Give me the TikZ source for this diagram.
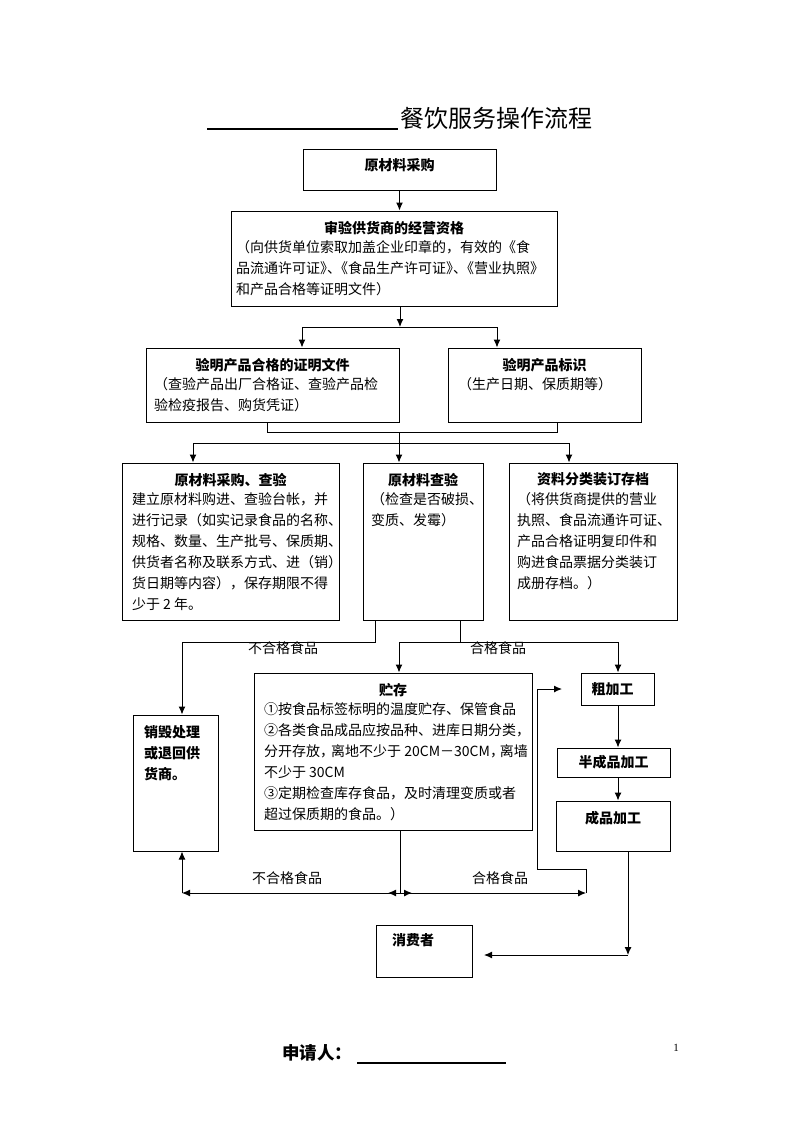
\documentclass[tikz,border=0pt]{standalone}
\usepackage{fontspec}
\setmainfont{Noto Sans CJK SC}
\newfontfamily\pagenofont{Liberation Serif}
\usetikzlibrary{positioning,arrows.meta}

\tikzset{
  box/.style={draw, line width=1pt, inner sep=0pt},
  head/.style={inner sep=0pt, font=\bfseries\fontsize{14}{21}\selectfont},
  txt/.style={inner sep=0pt, align=left, font=\fontsize{14}{21}\selectfont},
  tag/.style={inner sep=0pt, font=\fontsize{14}{21}\selectfont},
}

\begin{document}
\begin{tikzpicture}[x=1pt, y=-1pt, line width=1pt, >={Latex[length=8pt,width=7pt]}]
\useasboundingbox (0,0) rectangle (800,1132);

% title
\node[inner sep=0pt, font=\fontsize{24}{28}\selectfont] (title) at (496.5,118) {餐饮服务操作流程};
\draw[line width=1.3pt] (207,129) -- (398,129);

% purchase and supplier check
\node[box, minimum width=193pt, minimum height=41pt] (buy) at (399.5,169.5) {};
\node[head, below=10pt of buy.north] (buyhead) {原材料采购};
\node[box, minimum width=326pt, minimum height=95pt] (qual) at (394,258.5) {};
\node[head, below=10pt of qual.north] (qualhead) {审验供货商的经营资格};
\node[txt, below right=30pt and 5pt of qual.north west] (qualtxt)
  {（向供货单位索取加盖企业印章的，有效的《食\\
   品流通许可证》\kern-.5em、\kern-.5em《食品生产许可证》\kern-.5em、\kern-.5em《营业执照》\\
   和产品合格等证明文件）};

% product checks
\node[box, minimum width=253pt, minimum height=74pt] (certs) at (272.5,385) {};
\node[head, below=10pt of certs.north] (certshead) {验明产品合格的证明文件};
\node[txt, below right=30pt and 8pt of certs.north west] (certstxt)
  {（查验产品出厂合格证、查验产品检\\验检疫报告、购货凭证）};
\node[box, minimum width=193pt, minimum height=74pt] (mark) at (544.5,385) {};
\node[head, below=10pt of mark.north] (markhead) {验明产品标识};
\node[txt, below right=30pt and 10pt of mark.north west] (marktxt) {（生产日期、保质期等）};

% three columns
\node[box, minimum width=217pt, minimum height=157pt] (ledger) at (230.5,541.5) {};
\node[head, below=10pt of ledger.north] (ledgerhead) {原材料采购、查验};
\node[txt, below right=30pt and 10pt of ledger.north west] (ledgertxt)
  {建立原材料购进、查验台帐，并\\
   进行记录（如实记录食品的名称、\\
   规格、数量、生产批号、保质期、\\
   供货者名称及联系方式、进（销）\\
   货日期等内容），保存期限不得\\
   少于 2 年。};
\node[box, minimum width=120pt, minimum height=157pt] (inspect) at (423,541.5) {};
\node[head, below=10pt of inspect.north] (inspecthead) {原材料查验};
\node[txt, below right=30pt and 8pt of inspect.north west] (inspecttxt)
  {（检查是否破损、\\变质、发霉）};
\node[box, minimum width=168pt, minimum height=157pt] (archive) at (593,541.5) {};
\node[head, below=10pt of archive.north] (archivehead) {资料分类装订存档};
\node[txt, below right=30pt and 8pt of archive.north west] (archivetxt)
  {（将供货商提供的营业\\
   执照、食品流通许可证、\\
   产品合格证明复印件和\\
   购进食品票据分类装订\\
   成册存档。）};

% reject, storage, processing
\node[box, minimum width=85pt, minimum height=136pt] (reject) at (175.5,783) {};
\node[head, align=left, below right=10pt and 11pt of reject.north west] (rejecttxt)
  {销毁处理\\或退回供\\货商。};
\node[box, minimum width=278pt, minimum height=157pt] (store) at (393,751.5) {};
\node[head, below=10pt of store.north] (storehead) {贮存};
\node[txt, below right=30pt and 10pt of store.north west] (storetxt)
  {①按食品标签标明的温度贮存、保管食品\\
   ②各类食品成品应按品种、进库日期分类，\\
   分开存放，\kern-.2em离地不少于 20CM－30CM，\kern-.3em离墙\\
   不少于 30CM\\
   ③定期检查库存食品，及时清理变质或者\\
   超过保质期的食品。）};
\node[box, minimum width=73pt, minimum height=32pt] (rough) at (617.5,689) {};
\node[head] (roughtxt) at ([xshift=-5pt]rough.center) {粗加工};
\node[box, minimum width=113pt, minimum height=29pt] (semi) at (613.5,762.5) {};
\node[head] (semitxt) at (semi.center) {半成品加工};
\node[box, minimum width=114pt, minimum height=50pt] (final) at (613,826) {};
\node[head, below=10pt of final.north] (finaltxt) {成品加工};
\node[box, minimum width=96pt, minimum height=52pt] (consumer) at (424,951) {};
\node[head, below right=9pt and 16pt of consumer.north west] (consumertxt) {消费者};

% connectors, top part
\coordinate (split1) at (400,327);
\coordinate (c1) at (302,327);
\coordinate (d1) at (497,327);
\draw[->] (buy.south) -- (buy.south |- qual.north);
\draw[->] (qual.south -| split1) -- (split1);
\draw (c1) -- (d1);
\draw[->] (c1) -- (c1 |- certs.north);
\draw[->] (d1) -- (d1 |- mark.north);

\coordinate (c2) at (267,432);
\coordinate (d2) at (557,432);
\coordinate (split2) at (399,443);
\coordinate (e2) at (193,443);
\coordinate (g2) at (569,443);
\draw (certs.south -| c2) -- (c2) -- (d2) -- (mark.south -| d2);
\draw[->] (c2 -| split2) -- (split2 |- inspect.north);
\draw (e2) -- (g2);
\draw[->] (e2) -- (e2 |- ledger.north);
\draw[->] (g2) -- (g2 |- archive.north);

% after inspection
\coordinate (f1) at (375,642);
\coordinate (f2) at (460,642);
\coordinate (h1) at (182,642);
\coordinate (i1) at (399,642);
\coordinate (j1) at (618,642);
\draw[->] (inspect.south -| f1) -- (f1) -- (h1) -- (h1 |- reject.north);
\draw (inspect.south -| f2) -- (f2);
\draw (i1) -- (j1);
\draw[->] (i1) -- (i1 |- store.north);
\draw[->] (j1) -- (j1 |- rough.north);
\node[tag] (badtag) at (283,648) {不合格食品};
\node[tag] (goodtag) at (498,648) {合格食品};

\draw[->] (rough.south -| j1) -- (j1 |- semi.north);
\draw[->] (semi.south -| j1) -- (j1 |- final.north);

\coordinate (l1) at (628,955);
\coordinate (m1) at (484,955);
\draw[->] (final.south -| l1) -- (l1);
\draw[->] (l1) -- (m1);

% from storage
\coordinate (k) at (400,893);
\coordinate (h2) at (182,893);
\coordinate (r1) at (586,893);
\coordinate (r2) at (537,869);
\coordinate (r3) at (562,689);
\draw (store.south -| k) -- (k);
\draw[->] (k) -- (h2);
\draw[->] (h2) -- (h2 |- reject.south);
\draw[->] (k) -- ++(-12,0);
\draw[->] (k) -- ++(12,0);
\draw[->] (k) -- (r1);
\draw[->] (r1) -- (r1 |- r2) -- (r2) |- (r3);
\node[tag] (badtag2) at (287,878) {不合格食品};
\node[tag] (goodtag2) at (500,878) {合格食品};

% footer
\node[inner sep=0pt, font=\bfseries\fontsize{17.5}{22}\selectfont] (applicant) at (317,1053) {申请人：};
\draw[line width=1.5pt] (357,1063) -- (506,1063);
\node[inner sep=0pt, font=\pagenofont\fontsize{11}{13}\selectfont] (pageno) at (676,1048) {1};
\end{tikzpicture}
\end{document}
